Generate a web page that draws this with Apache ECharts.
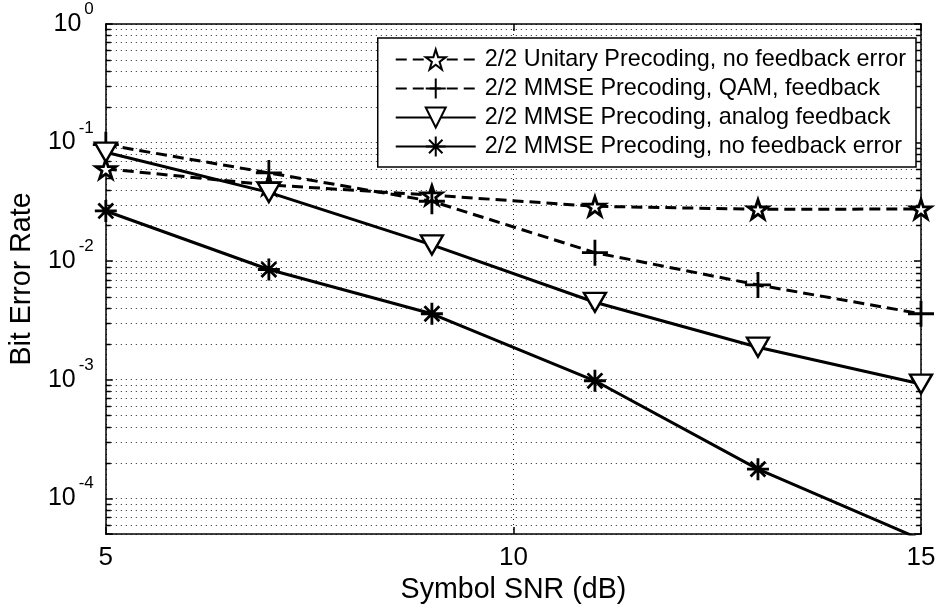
<!DOCTYPE html>
<html>
<head>
<meta charset="utf-8">
<script src="https://cdn.jsdelivr.net/npm/echarts@6/dist/echarts.min.js"></script>
<style>
html,body{margin:0;padding:0;background:#fff;}
#chart{width:941px;height:613px;}
</style>
</head>
<body>
<div id="chart"></div>
<script>
// ---- data ----
const snr = [5, 7, 9, 11, 13, 15];
const berUnitary = [0.060, 0.044, 0.036, 0.029, 0.0274, 0.0275];
const berQam = [0.096, 0.0555, 0.032, 0.0118, 0.0063, 0.0036];
const berAnalog = [0.083, 0.038, 0.0137, 0.0045, 0.00188, 0.00092];
const berNoErr = [0.0265, 0.0085, 0.0036, 0.00098, 0.000176, 0.000045];
const seriesNames = [
  '2/2 Unitary Precoding, no feedback error',
  '2/2 MMSE Precoding, QAM, feedback',
  '2/2 MMSE Precoding, analog feedback',
  '2/2 MMSE Precoding, no feedback error'
];
const xTicks = [5, 10, 15];
const yMin = 5e-5, yMax = 1;
const xMin = 5, xMax = 15;

// ---- styling ----
const FONT = '"Liberation Sans", Arial, Helvetica, sans-serif';
const LW = 3;
const DASH = [11, 6];
const STAR = 'path://M10,0L12.245,6.91L19.511,6.91L13.633,11.18L15.878,18.09L10,13.82L4.122,18.09L6.367,11.18L0.489,6.91L7.755,6.91Z';
const PLUS = 'path://M13,0L13,26M0,13L26,13';
const TRI = 'path://M0,0L22,0L11,19Z';
const AST = 'path://M11,0L11,22M0,11L22,11M3.6,3.6L18.4,18.4M18.4,3.6L3.6,18.4';

// minor log gridlines (2..9 x 10^k) inside the axis range
const minorVals = [];
for (let k = -5; k <= -1; k++) {
  for (let m = 2; m <= 9; m++) {
    const v = m * Math.pow(10, k);
    if (v > yMin * 1.001 && v < yMax) minorVals.push(v);
  }
}

function pairs(ys) { return snr.map((x, i) => [x, ys[i]]); }

function yLabel(v) {
  const e = Math.log10(v);
  const r = Math.round(e);
  if (Math.abs(e - r) > 1e-6) return '';
  return '{b|10}{s|' + r + '}';
}

const chart = echarts.init(document.getElementById('chart'), null, {renderer: 'canvas'});

const option = {
  animation: false,
  backgroundColor: '#fff',
  grid: {left: 102, top: 24, right: 20, bottom: 79, containLabel: false},
  legend: {
    orient: 'vertical',
    right: 25, top: 38,
    backgroundColor: '#fff',
    borderColor: '#000', borderWidth: 1.5, borderRadius: 0,
    padding: [10, 10, 9, 17],
    itemWidth: 80, itemHeight: 25, itemGap: 6,
    textStyle: {fontSize: 23.4, fontFamily: FONT, color: '#000', padding: [0, 0, 0, 4]},
    data: seriesNames,
    selectedMode: false
  },
  xAxis: [{
    type: 'value', min: xMin, max: xMax, interval: 5,
    position: 'bottom',
    name: 'Symbol SNR (dB)', nameLocation: 'middle', nameGap: 42,
    nameTextStyle: {fontSize: 28.6, fontFamily: FONT, color: '#000'},
    axisLine: {show: true, onZero: false, lineStyle: {color: '#000', width: 1.5}},
    axisTick: {show: true, inside: true, length: 7, lineStyle: {color: '#000', width: 1.5}},
    axisLabel: {fontSize: 26, fontFamily: FONT, color: '#000', margin: 11},
    splitLine: {show: true, lineStyle: {color: '#222', width: 1, type: [1, 4]}}
  }, {
    type: 'value', min: xMin, max: xMax, interval: 5,
    position: 'top',
    axisLine: {show: true, onZero: false, lineStyle: {color: '#000', width: 1.5}},
    axisTick: {show: true, inside: true, length: 7, lineStyle: {color: '#000', width: 1.5}},
    axisLabel: {show: false},
    splitLine: {show: false}
  }],
  yAxis: [{
    type: 'log', logBase: 10, min: yMin, max: yMax,
    position: 'left',
    name: 'Bit Error Rate', nameLocation: 'middle', nameGap: 64, nameRotate: 90,
    nameTextStyle: {fontSize: 28.6, fontFamily: FONT, color: '#000'},
    axisLine: {show: true, onZero: false, lineStyle: {color: '#000', width: 1.5}},
    axisTick: {show: true, inside: true, length: 7, lineStyle: {color: '#000', width: 1.5}},
    axisLabel: {
      color: '#000', margin: 12, formatter: yLabel,
      rich: {
        b: {fontSize: 25, fontFamily: FONT, color: '#000', lineHeight: 46},
        s: {fontSize: 17, fontFamily: FONT, color: '#000', verticalAlign: 'top', lineHeight: 17, padding: [0, 0, 0, 3]}
      }
    },
    splitLine: {show: true, lineStyle: {color: '#222', width: 1, type: [1, 4]}}
  }, {
    type: 'log', logBase: 10, min: yMin, max: yMax,
    position: 'right',
    axisLine: {show: true, onZero: false, lineStyle: {color: '#000', width: 1.5}},
    axisTick: {show: true, inside: true, length: 7, lineStyle: {color: '#000', width: 1.5}},
    axisLabel: {show: false},
    splitLine: {show: false}
  }],
  series: [
    {
      type: 'custom', name: 'minorGrid', silent: true, z: 1,
      xAxisIndex: 0, yAxisIndex: 0,
      data: minorVals.map(v => [xMin, v]),
      encode: {x: 0, y: 1},
      renderItem: function (params, api) {
        const cs = params.coordSys;
        const y = Math.round(api.coord([xMin, api.value(1)])[1]) + 0.5;
        const x0 = cs.x, x1 = cs.x + cs.width;
        return {
          type: 'group',
          children: [
            {type: 'line', shape: {x1: x0, y1: y, x2: x1, y2: y},
             style: {stroke: '#222', lineWidth: 1, lineDash: [1, 4]}},
            {type: 'line', shape: {x1: x0, y1: y, x2: x0 + 5, y2: y},
             style: {stroke: '#000', lineWidth: 1.5}},
            {type: 'line', shape: {x1: x1 - 5, y1: y, x2: x1, y2: y},
             style: {stroke: '#000', lineWidth: 1.5}}
          ]
        };
      }
    },
    {
      name: seriesNames[0], type: 'line', data: pairs(berUnitary), z: 3,
      symbol: STAR, symbolSize: 20, symbolKeepAspect: true,
      lineStyle: {color: '#000', width: LW, type: DASH},
      itemStyle: {color: '#fff', borderColor: '#000', borderWidth: 2.8}
    },
    {
      name: seriesNames[1], type: 'line', data: pairs(berQam), z: 3,
      symbol: PLUS, symbolSize: 26,
      lineStyle: {color: '#000', width: LW, type: DASH},
      itemStyle: {color: '#000', borderColor: '#000', borderWidth: 2.8}
    },
    {
      name: seriesNames[2], type: 'line', data: pairs(berAnalog), z: 3,
      symbol: TRI, symbolSize: [22, 19],
      lineStyle: {color: '#000', width: LW, type: 'solid'},
      itemStyle: {color: '#fff', borderColor: '#000', borderWidth: 2.4}
    },
    {
      name: seriesNames[3], type: 'line', data: pairs(berNoErr), z: 3,
      symbol: AST, symbolSize: 22,
      lineStyle: {color: '#000', width: LW, type: 'solid'},
      itemStyle: {color: '#000', borderColor: '#000', borderWidth: 2.8}
    }
  ]
};
chart.setOption(option);
</script>
</body>
</html>
